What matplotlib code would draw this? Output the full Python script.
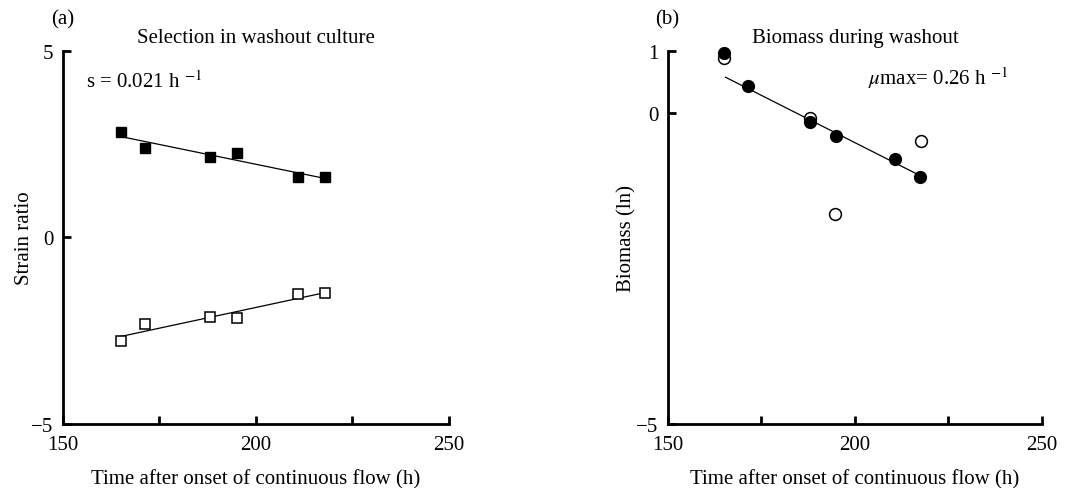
import numpy as np
import matplotlib
matplotlib.use("Agg")
import matplotlib.pyplot as plt
import matplotlib.ticker as mticker

plt.rcParams["font.family"] = ["Liberation Serif", "DejaVu Serif"]
plt.rcParams["mathtext.fontset"] = "stix"

# --- panel (a): strain ratio -------------------------------------
time_a = [165.0, 171.2, 188.1, 195.2, 211.0, 217.9]
strain_filled = [2.82, 2.39, 2.17, 2.27, 1.61, 1.61]
strain_open = [-2.78, -2.31, -2.12, -2.17, -1.52, -1.50]

# --- panel (b): biomass ------------------------------------------
time_b_filled = [165.1, 171.5, 188.0, 194.8, 210.7, 217.4]
biomass_filled = [0.96, 0.43, -0.15, -0.36, -0.74, -1.02]
time_b_open = [165.1, 188.0, 194.6, 217.6]
biomass_open = [0.89, -0.08, -1.62, -0.45]

x_ticks = [150, 175, 200, 225, 250]
x_labelled = [150, 200, 250]

FS = 15


def style_axes(ax, yticks, ylim):
    ax.set_xlim(150, 250)
    ax.set_ylim(*ylim)
    for side in ("top", "right"):
        ax.spines[side].set_visible(False)
    for side in ("left", "bottom"):
        ax.spines[side].set_linewidth(2)
    ax.set_xticks(x_ticks)
    ax.xaxis.set_major_formatter(mticker.FuncFormatter(
        lambda v, p: f"{v:.0f}" if round(v) in x_labelled else ""))
    ax.set_yticks(yticks)
    ax.tick_params(direction="in", length=6, width=2, labelsize=FS)
    ax.tick_params(axis="x", pad=8)
    ax.tick_params(axis="y", pad=7)
    ax.set_xlabel("Time after onset of continuous flow (h)", fontsize=FS)
    ax.xaxis.set_label_coords(0.5, -0.122)


fig = plt.figure(figsize=(10.8, 4.89), dpi=100)
ax1 = fig.add_axes([0.0583, 0.1309, 0.3574, 0.7628])
ax2 = fig.add_axes([0.6185, 0.1309, 0.3463, 0.7628])

# (a)
style_axes(ax1, [-5, 0, 5], (-5, 5))
ax1.plot(time_a, strain_filled, "s", ms=7.2, mfc="black", mec="black", ls="none", clip_on=False)
ax1.plot(time_a, strain_open, "s", ms=7.2, mfc="white", mec="black", mew=1.1, ls="none", clip_on=False)
xs = np.array([min(time_a), max(time_a)])
for ys in (strain_filled, strain_open):
    k, b = np.polyfit(time_a, ys, 1)
    ax1.plot(xs, k * xs + b, color="black", lw=0.9, zorder=1)
ax1.set_ylabel("Strain ratio", fontsize=FS)
ax1.yaxis.set_label_coords(-0.075, 0.5)
ax1.text(156, 4.18, r"s = 0.021 h $^{-1}$", fontsize=FS, va="center")
ax1.set_title("Selection in washout culture", fontsize=FS, pad=6.5)
fig.text(0.058, 0.96, "(a)", fontsize=FS, ha="center", va="center")

# (b)
style_axes(ax2, [-5, 0, 1], (-5, 1))
ax2.plot(time_b_open, biomass_open, "o", ms=8.5, mfc="white", mec="black", mew=1.1, ls="none", clip_on=False)
ax2.plot(time_b_filled, biomass_filled, "o", ms=8.5, mfc="black", mec="black", ls="none", clip_on=False)
k, b = np.polyfit(time_b_filled[1:], biomass_filled[1:], 1)
xs = np.array([165.4, 216.5])
ax2.plot(xs, k * xs + b, color="black", lw=0.9, zorder=1)
ax2.set_ylabel("Biomass (ln)", fontsize=FS)
ax2.yaxis.set_label_coords(-0.085, 0.5)
ax2.text(203.5, 0.58, r"$\mu$max= 0.26 h $^{-1}$", fontsize=FS, va="center")
ax2.set_title("Biomass during washout", fontsize=FS, pad=6.5)
fig.text(0.618, 0.96, "(b)", fontsize=FS, ha="center", va="center")

fig.savefig("out.png", dpi=100)
